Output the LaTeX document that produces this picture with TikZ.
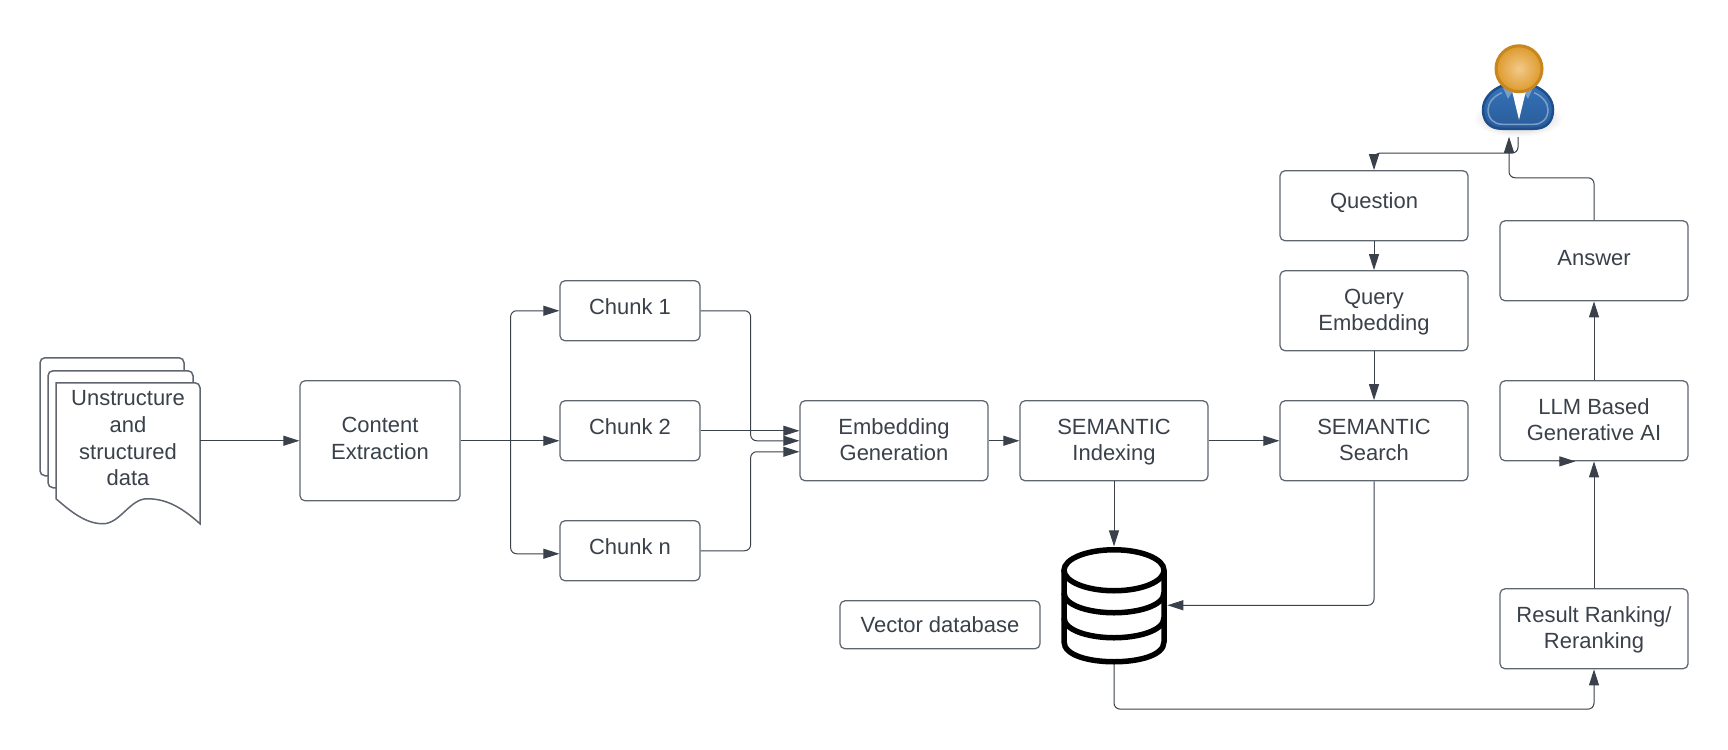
\documentclass[tikz,border=0pt]{standalone}
\usepackage{xcolor}
\usepackage{fontspec}
\setmainfont{Liberation Sans}
\usetikzlibrary{positioning, arrows.meta, calc}
\definecolor{lucidink}{HTML}{3A414A}
\definecolor{lucidline}{HTML}{5F6670}
\definecolor{suitblue}{HTML}{3472B8}
\definecolor{suitdark}{HTML}{2A5C9A}
\definecolor{suitedge}{HTML}{1F4E8C}
\definecolor{suitlight}{HTML}{7C9FC9}
\definecolor{headlight}{HTML}{F3C98A}
\definecolor{headgold}{HTML}{DD9A2C}
\definecolor{headedge}{HTML}{C8861E}

\begin{document}
\begin{tikzpicture}[font=\fontsize{12.5}{15.2}\selectfont, text=lucidink,
    procbox/.style={draw=lucidline, line width=0.025cm, rounded corners=0.1cm, fill=white, align=center, inner sep=0pt},
    oneline/.style={execute at end node={\rule[-#1]{0pt}{#1}}},
    oneline/.default=0.1cm,
    twoline/.style={text height=0.9cm, text depth=0.1cm},
    wideproc/.style={procbox, minimum width=3.76cm, minimum height=1.6cm},
    chunkbox/.style={procbox, oneline=0.15cm, minimum width=2.8cm, minimum height=1.2cm},
    flow/.style={-{Triangle[length=0.32cm, width=0.2cm]}, line width=0.02cm, draw=lucidink, rounded corners=0.12cm},
    page/.style={draw=lucidline, line width=0.03cm, fill=white, rounded corners=0.1cm},
    dbline/.style={draw=black, line width=0.11cm}]
  \useasboundingbox[fill=white] (0,0.015) rectangle (34.56,-14.965);

  % stacked documents
  \draw[page] (0.8,-9.5) -- (0.8,-7.14) -- (3.68,-7.14) -- (3.68,-9.5) -- cycle;
  \draw[page] (0.96,-9.74) -- (0.96,-7.4) -- (3.86,-7.4) -- (3.86,-9.74) -- cycle;
  \draw[page] (1.12,-7.64) -- (4,-7.64) [sharp corners] -- (4,-10.46) .. controls (3.6,-10.1) and (3.3,-9.96) .. (2.94,-9.96) .. controls (2.6,-9.96) and (2.4,-10.46) .. (2.06,-10.46) .. controls (1.7,-10.46) and (1.4,-10.2) .. (1.12,-9.96) -- cycle;
  \node[align=center, text depth=0.1cm, minimum width=2.88cm, inner sep=0pt] (docs) at (2.56,-8.8) {Unstructure\\and\\structured\\data};

  \node[procbox, text depth=0.1cm, minimum width=3.2cm, minimum height=2.4cm] (extract) at (7.6,-8.8) {Content\\Extraction};
  \node[chunkbox] (chunk1) at (12.6,-6.2) {Chunk 1};
  \node[chunkbox] (chunk2) at (12.6,-8.6) {Chunk 2};
  \node[chunkbox] (chunkn) at (12.6,-11) {Chunk n};
  \node[wideproc, twoline] (embed) at (17.88,-8.8) {Embedding\\Generation};
  \node[wideproc, twoline] (index) at (22.28,-8.8) {SEMANTIC\\Indexing};
  \node[wideproc, twoline] (search) at (27.48,-8.8) {SEMANTIC\\Search};
  \node[wideproc, twoline] (query) at (27.48,-6.2) {Query\\Embedding};
  \node[wideproc, oneline=0.2cm, minimum height=1.4cm] (question) at (27.48,-4.1) {Question};
  \node[wideproc, oneline] (answer) at (31.88,-5.2) {Answer};
  \node[wideproc, twoline] (llm) at (31.88,-8.4) {LLM Based\\Generative AI};
  \node[wideproc, twoline] (rank) at (31.88,-12.56) {Result Ranking/\\Reranking};
  \node[procbox, oneline=0cm, minimum width=4cm, minimum height=0.96cm] (vector) at (18.8,-12.48) {Vector database};

  % database icon
  \node[minimum width=2.12cm, minimum height=2.34cm, inner sep=0pt] (vecdb) at (22.28,-12.09) {};
  \draw[dbline] (22.28,-11.39) ellipse (1cm and 0.41cm);
  \draw[dbline] (21.28,-11.39) -- (21.28,-12.82) .. controls (21.28,-13.1) and (21.8,-13.22) .. (22.28,-13.22) .. controls (22.76,-13.22) and (23.28,-13.1) .. (23.28,-12.82) -- (23.28,-11.39);
  \draw[dbline] (21.28,-11.84) .. controls (21.28,-12.1) and (21.8,-12.24) .. (22.28,-12.24) .. controls (22.76,-12.24) and (23.28,-12.1) .. (23.28,-11.84);
  \draw[dbline] (21.28,-12.34) .. controls (21.28,-12.6) and (21.8,-12.74) .. (22.28,-12.74) .. controls (22.76,-12.74) and (23.28,-12.6) .. (23.28,-12.34);

  % user icon
  \node[minimum width=1.4cm, minimum height=1.84cm, inner sep=0pt] (user) at (30.36,-1.8) {};
  \shade[inner color=black!30, outer color=white] (30.36,-2.36) ellipse (0.9cm and 0.36cm);
  \path[draw=suitedge, line width=0.05cm, top color=suitblue, bottom color=suitdark]
    (30.04,-1.7) .. controls (29.8,-1.8) and (29.66,-1.98) .. (29.66,-2.18) .. controls (29.66,-2.42) and (29.8,-2.56) .. (30.04,-2.56) -- (30.68,-2.56) .. controls (30.92,-2.56) and (31.06,-2.42) .. (31.06,-2.18) .. controls (31.06,-1.98) and (30.92,-1.8) .. (30.68,-1.7) -- cycle;
  \draw[suitlight, line width=0.03cm]
    (30.04,-1.84) .. controls (29.88,-1.9) and (29.76,-2.04) .. (29.76,-2.18) .. controls (29.76,-2.36) and (29.88,-2.47) .. (30.04,-2.47) -- (30.68,-2.47) .. controls (30.84,-2.47) and (30.96,-2.36) .. (30.96,-2.18) .. controls (30.96,-2.04) and (30.84,-1.9) .. (30.68,-1.84);
  \fill[suitlight] (30.06,-1.74) -- (30.26,-1.8) -- (30.16,-1.96) -- cycle;
  \fill[suitlight] (30.66,-1.74) -- (30.46,-1.8) -- (30.56,-1.96) -- cycle;
  \fill[white] (30.24,-1.8) -- (30.52,-1.8) -- (30.38,-2.38) -- cycle;
  \draw[draw=headedge, line width=0.06cm, inner color=headlight, outer color=headgold] (30.38,-1.36) circle (0.46cm);

  % connectors
  \draw[flow] (docs.east) -- (extract.west);
  \draw[flow] (extract.east) -- (extract.east -| chunk2.west);
  \draw[line width=0.02cm, draw=lucidink] (extract.east) -- ++(1,0) coordinate (trunk);
  \draw[flow] (trunk) |- (chunk1.west);
  \draw[flow] (trunk) |- ([yshift=-0.06cm]chunkn.west);
  \draw[flow] (chunk1.east) -- ++(1,0) |- (embed.west);
  \draw[flow] (chunk2.east) -- (chunk2.east -| embed.west);
  \draw[flow] (chunkn.east) -- ++(1,0) |- ([yshift=-0.22cm]embed.west);
  \draw[flow] (embed) -- (index);
  \draw[flow] (index) -- (search);
  \draw[flow] (question) -- (query);
  \draw[flow] (query) -- (search);
  \draw[flow] (index) -- (vecdb);
  \draw[flow] (search.south) |- (vecdb.east);
  \draw[flow] (vecdb.south) -- ++(0,-0.9) -| (rank.south);
  \draw[flow] (rank) -- (llm);
  \draw[flow] ([xshift=1.2cm]llm.south west) -- ([xshift=1.52cm]llm.south west);
  \draw[flow] (llm) -- (answer);
  \draw[flow] (answer.north) |- (30.18,-3.54) -- (30.18,-2.72);
  \draw[flow] (user.south) -- ++(0,-0.32) -- ++(-2.88,0) [sharp corners] -- (question.north);
\end{tikzpicture}
\end{document}
